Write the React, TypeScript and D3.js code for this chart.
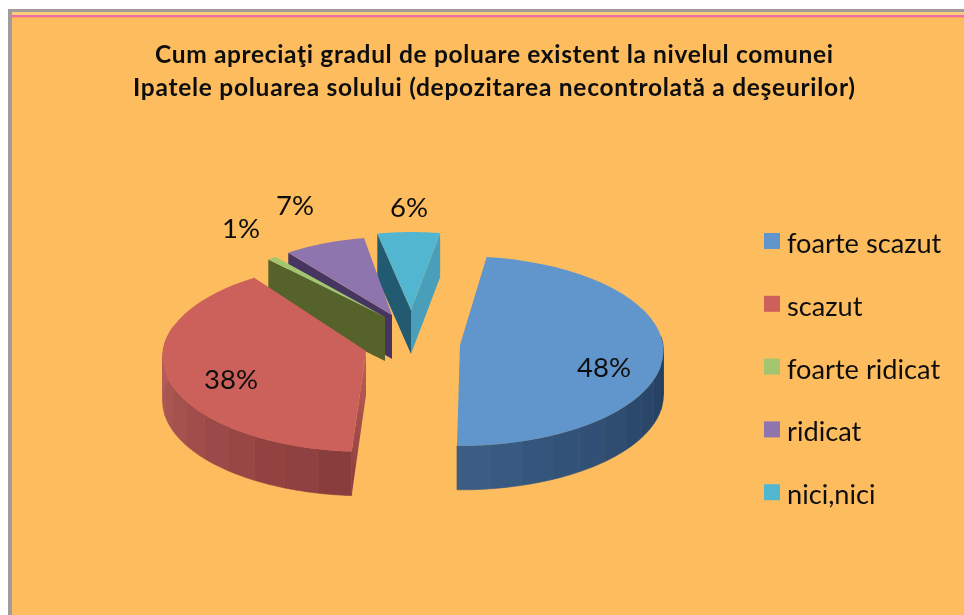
import React from "react";
import * as d3 from "d3";

const categories = ["foarte scazut", "scazut", "foarte ridicat", "ridicat", "nici,nici"];
const shares = [48, 38, 1, 7, 6];
const shareLabels = ["48%", "38%", "1%", "7%", "6%"];
const titleLines = [
  "Cum apreciaţi gradul de poluare existent la nivelul comunei",
  "Ipatele poluarea solului (depozitarea necontrolată a deşeurilor)",
];

const topColors = ["#6196cc", "#cc605a", "#a4c56f", "#8f74ae", "#53b6d1"];
const startFace = ["#2c4a6e", "#b0554f", "#55622b", "#453560", "#245a72"];
const endFace = ["#2c4a6e", "#b0554f", "#55622b", "#453560", "#4a9fb9"];
const rimLight = ["#3c5f86", "#b9605b", "#55622b", "#453560", "#245a72"];
const rimDark = ["#213a5b", "#883b3b", "#55622b", "#453560", "#245a72"];

// layout of the exploded slices
const apexX = [460, 366, 385, 392, 411];
const apexY = [345, 351, 317, 315, 310];
const sliceScale = [1, 1, 0.87, 0.87, 0.87];
const trimStart = [0, 3, -1, 1, 2];
const trimEnd = [0, 7, -1.5, 4, 2];
const labelX = [604, 231, 241, 295, 409];
const labelY = [368, 380, 229, 206, 208];
const titleWidths = [678, 722];

const RX = 203;
const RY = 94.5;
const PERSPECTIVE = 0.063;
const DEPTH = 44;
const rad = (d: number) => (d * Math.PI) / 180;

type P = [number, number];

const point = (i: number, a: number, dy = 0): P => {
  const r = sliceScale[i];
  const yFront = -Math.cos(a) * r;
  const w = 1 / (1 - PERSPECTIVE * yFront);
  return [apexX[i] + Math.sin(a) * r * RX * w, apexY[i] + yFront * RY * w + dy];
};

const closed = d3.line<P>().curve(d3.curveLinearClosed);

const arcPoints = (i: number, a0: number, a1: number, dy = 0): P[] =>
  d3.range(0, 41).map((k) => point(i, a0 + ((a1 - a0) * k) / 40, dy));

const arcs = d3
  .pie<number>()
  .sort(null)
  .startAngle(rad(8))
  .endAngle(rad(368))(shares);

const slices = arcs.map((arc, i) => ({
  i,
  a0: arc.startAngle + rad(trimStart[i]),
  a1: arc.endAngle + rad(trimEnd[i]),
}));

const drawOrder = [4, 3, 2, 1, 0];

function Slice({ i, a0, a1 }: { i: number; a0: number; a1: number }) {
  const apex: P = [apexX[i], apexY[i]];
  const apexLow: P = [apexX[i], apexY[i] + DEPTH];
  const tip0 = point(i, a0);
  const tip1 = point(i, a1);
  const rimFrom = Math.max(a0, rad(85));
  const rimTo = Math.min(a1, rad(285));
  const bandCount = Math.max(0, Math.round(((rimTo - rimFrom) * 180) / Math.PI / 9));
  const bandColor = d3.scaleLinear<string>()
    .domain([rimFrom, rimTo])
    .range([rimDark[i], rimLight[i]])
    .interpolate(d3.interpolateRgb);
  const bands = rimTo > rimFrom && bandCount > 0 ? d3.range(bandCount) : [];
  return (
    <g>
      {tip0[0] < apex[0] && (
        <path
          d={closed([apex, tip0, [tip0[0], tip0[1] + DEPTH], apexLow]) ?? ""}
          fill={i === 1 ? "url(#redFace)" : startFace[i]}
        />
      )}
      {tip1[0] > apex[0] && (
        <path d={closed([apex, tip1, [tip1[0], tip1[1] + DEPTH], apexLow]) ?? ""} fill={endFace[i]} />
      )}
      {bands.map((b) => {
        const s = rimFrom + ((rimTo - rimFrom) * b) / bandCount;
        const e = rimFrom + ((rimTo - rimFrom) * (b + 1)) / bandCount;
        const top = d3.range(0, 7).map((k) => point(i, s + ((e - s) * k) / 6));
        const low = d3.range(6, -1, -1).map((k) => point(i, s + ((e - s) * k) / 6, DEPTH));
        const c = bandColor((s + e) / 2);
        return <path key={b} d={closed([...top, ...low]) ?? ""} fill={c} stroke={c} strokeWidth={0.6} />;
      })}
      <path d={closed([apex, ...arcPoints(i, a0, a1)]) ?? ""} fill={topColors[i]} />
    </g>
  );
}

export default function App() {
  const sans = "Lato, Carlito, 'Open Sans', sans-serif";
  return (
    <svg
      width={964}
      height={615}
      style={{ position: "absolute", left: 0, top: 0, background: "#fff" }}
      fontFamily={sans}
    >
      <defs>
        <linearGradient id="redFace" x1="0" y1="0" x2="0" y2="1">
          <stop offset="0" stopColor="#c4605a" />
          <stop offset="1" stopColor="#873c3b" />
        </linearGradient>
        <filter id="soft" x="-5%" y="-5%" width="110%" height="110%">
          <feGaussianBlur stdDeviation="0.45" />
        </filter>
      </defs>
      <rect x={8} y={9} width={956} height={606} fill="#a39a9c" />
      <rect x={12} y={12} width={952} height={603} fill="#fdbd5f" />
      <rect x={12} y={12} width={952} height={3} fill="#f7cf7a" />
      <rect x={12} y={15} width={952} height={2} fill="#f06bab" />
      <rect x={12} y={17} width={952} height={1} fill="#f9a465" />

      <g filter="url(#soft)">
        {titleLines.map((t, k) => (
          <text
            key={t}
            x={494}
            y={63 + k * 33}
            textAnchor="middle"
            fontSize={24.5}
            fontWeight={700}
            fill="#111"
            textLength={titleWidths[k]}
            lengthAdjust="spacing"
          >
            {t}
          </text>
        ))}

        {drawOrder.map((i) => (
          <Slice key={categories[i]} {...slices[i]} />
        ))}

        {shareLabels.map((l, i) => (
          <text key={l} x={labelX[i]} y={labelY[i] + 9} textAnchor="middle" fontSize={27.5} fill="#111">
            {l}
          </text>
        ))}

        {categories.map((c, i) => (
          <g key={c} transform={`translate(0,${233 + i * 62.8})`}>
            <rect x={764} y={0} width={16} height={16} fill={topColors[i]} />
            <text x={787} y={20} fontSize={27.2} fill="#111">
              {c}
            </text>
          </g>
        ))}
      </g>
    </svg>
  );
}
